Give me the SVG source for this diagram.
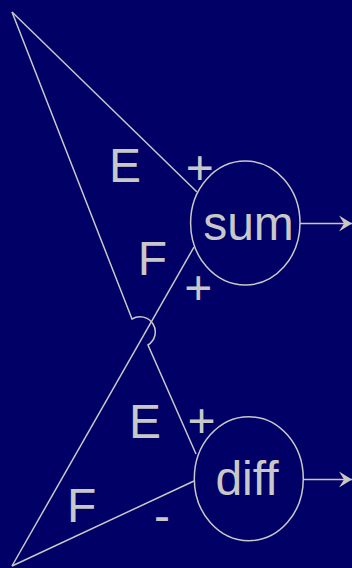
<svg xmlns="http://www.w3.org/2000/svg" width="352" height="568" viewBox="0 0 352 568">
<style>
.ln{fill:none;stroke:#c8c8c8;stroke-width:1.5}
.t{font-family:"Liberation Sans",Arial,sans-serif;font-size:48px;fill:#c8c8c8}
.m{text-anchor:middle}
</style>
<defs>
<marker id="arr" markerUnits="userSpaceOnUse" markerWidth="14" markerHeight="18" refX="13" refY="8" orient="auto" overflow="visible">
<path d="M13,8 L0,0 L5,8 L0,16 Z" fill="#c8c8c8"/>
</marker>
</defs>
<rect width="352" height="568" fill="#000066"/>
<g id="connectors">
<path class="ln" d="M12,12 L197,192"/>
<path class="ln" d="M12,12 L132,319 A15,15 0 1 1 148,345 L196,454"/>
<path class="ln" d="M12,566 L194,247"/>
<path class="ln" d="M12,566 L194,481"/>
<path class="ln" d="M300,223.5 L352,223.5" marker-end="url(#arr)"/>
<path class="ln" d="M303.5,479.5 L352,479.5" marker-end="url(#arr)"/>
</g>
<g id="sum">
<ellipse class="ln" cx="245.3" cy="223" rx="54.7" ry="62"/>
<text class="t m" x="248.5" y="240">sum</text>
</g>
<g id="diff">
<ellipse class="ln" cx="248.8" cy="478.7" rx="54.5" ry="62"/>
<text class="t m" x="247" y="495">diff</text>
</g>
<g id="labels">
<text class="t" x="109" y="182">E</text>
<text class="t m" x="199.7" y="184">+</text>
<text class="t" x="137.7" y="275">F</text>
<text class="t m" x="198.2" y="304">+</text>
<text class="t" x="129" y="438">E</text>
<text class="t m" x="201.5" y="436.6">+</text>
<text class="t" x="67" y="522">F</text>
<text class="t m" x="162" y="532">-</text>
</g>
</svg>
